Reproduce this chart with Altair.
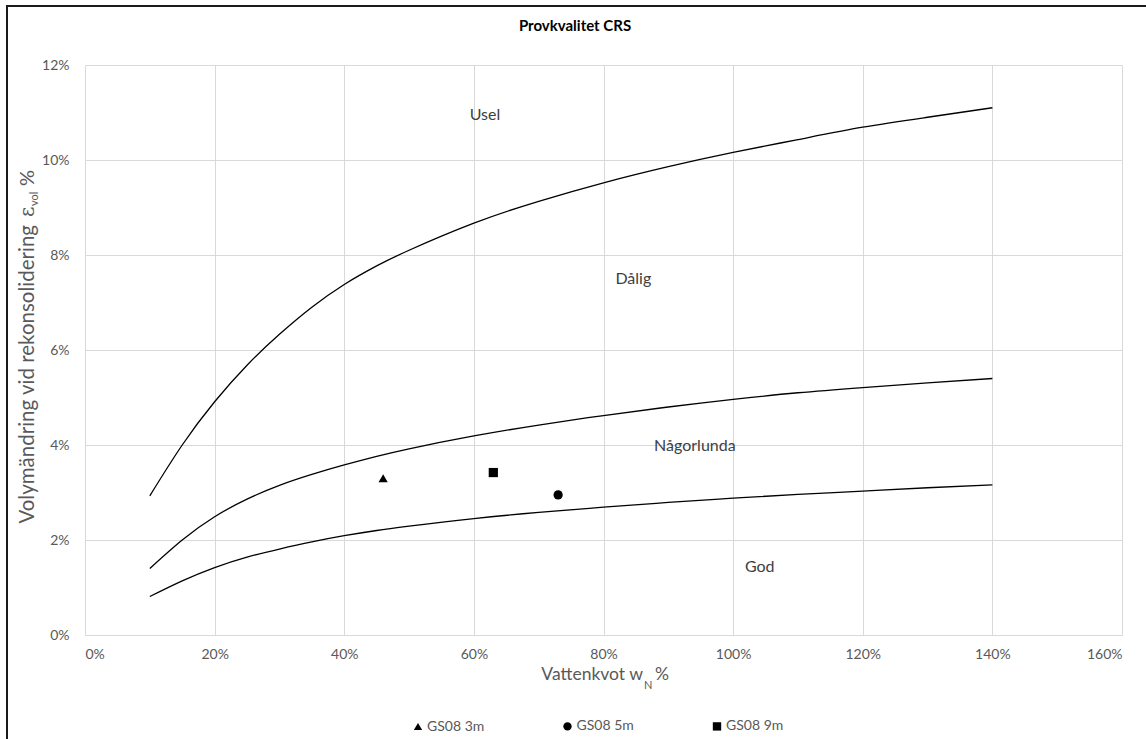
import altair as alt
import pandas as pd

# Boundary curves (water content w_N vs. volume change at reconsolidation), in %
curve_x = [0.10, 0.15, 0.20, 0.25, 0.30, 0.35, 0.40, 0.45, 0.50,
           0.60, 0.70, 0.80, 0.90, 1.00, 1.10, 1.20, 1.30, 1.40]
usel_dalig = [2.93, 4.00, 4.91, 5.68, 6.33, 6.90, 7.38, 7.77, 8.10,
              8.67, 9.13, 9.52, 9.86, 10.16, 10.43, 10.69, 10.90, 11.10]
dalig_nagorlunda = [1.40, 2.00, 2.49, 2.86, 3.15, 3.38, 3.58, 3.76, 3.92,
                    4.19, 4.42, 4.62, 4.80, 4.96, 5.10, 5.21, 5.31, 5.40]
nagorlunda_god = [0.81, 1.14, 1.42, 1.64, 1.81, 1.96, 2.09, 2.20, 2.29,
                  2.45, 2.58, 2.69, 2.79, 2.88, 2.96, 3.03, 3.10, 3.16]

# Samples
sample_names = ["GS08 3m", "GS08 5m", "GS08 9m"]
sample_shapes = ["triangle-up", "circle", "square"]
sample_w = [0.46, 0.73, 0.63]
sample_eps = [3.30, 2.95, 3.42]

# Region labels
region_names = ["Usel", "Dålig", "Någorlunda", "God"]
region_x = [0.617, 0.846, 0.941, 1.041]
region_y = [10.95, 7.49, 3.98, 1.43]

x_ticks = [0.0, 0.2, 0.4, 0.6, 0.8, 1.0, 1.2, 1.4, 1.6]
y_ticks = [0.0, 0.02, 0.04, 0.06, 0.08, 0.10, 0.12]

FONT = "Lato"
GREY = "#595959"
W, H = 1037, 570

rows = []
for name, ys in [("a", usel_dalig), ("b", dalig_nagorlunda), ("c", nagorlunda_god)]:
    for xv, yv in zip(curve_x, ys):
        rows.append({"curve": name, "w": xv, "eps": yv / 100})
curves = pd.DataFrame(rows)

samples = pd.DataFrame({
    "prov": sample_names,
    "w": sample_w,
    "eps": [v / 100 for v in sample_eps],
})

regions = pd.DataFrame({
    "label": region_names,
    "w": region_x,
    "eps": [v / 100 for v in region_y],
})

x_scale = alt.Scale(domain=[0, 1.6], nice=False, zero=False)
y_scale = alt.Scale(domain=[0, 0.12], nice=False, zero=False)

axis_common = dict(
    grid=True, gridColor="#d9d9d9", gridWidth=1,
    domainColor="#d9d9d9", ticks=False,
    labelFont=FONT, labelFontSize=14, labelColor=GREY,
    format=".0%", title=None,
)

lines = alt.Chart(curves).mark_line(
    color="black", strokeWidth=1.3, interpolate="natural"
).encode(
    x=alt.X("w:Q", scale=x_scale,
            axis=alt.Axis(values=x_ticks, labelPadding=12, **axis_common)),
    y=alt.Y("eps:Q", scale=y_scale,
            axis=alt.Axis(values=y_ticks, labelPadding=16, **axis_common)),
    detail="curve:N",
)

points = alt.Chart(samples).mark_point(
    filled=True, color="black", opacity=1, size=85
).encode(
    x=alt.X("w:Q", scale=x_scale),
    y=alt.Y("eps:Q", scale=y_scale),
    shape=alt.Shape(
        "prov:N",
        scale=alt.Scale(domain=sample_names, range=sample_shapes),
        legend=alt.Legend(
            title=None, orient="none", direction="horizontal", columns=3,
            legendX=326, legendY=654, padding=0,
            columnPadding=74.5, symbolSize=70, labelOffset=2,
            labelFont=FONT, labelFontSize=14, labelColor=GREY,
            symbolFillColor="black", symbolStrokeColor="black",
        ),
    ),
)

region_text = alt.Chart(regions).mark_text(
    font=FONT, fontSize=16, color="#404040"
).encode(
    x=alt.X("w:Q", scale=x_scale),
    y=alt.Y("eps:Q", scale=y_scale),
    text="label:N",
)


def label(txt, px, py, font=FONT, **kw):
    """A single piece of free text placed in plot-area pixel space."""
    return alt.Chart(pd.DataFrame({"t": [txt]})).mark_text(font=font, **kw).encode(
        x=alt.value(px), y=alt.value(py), text="t:N"
    )


title = label("Provkvalitet CRS", 490, -39, fontSize=15, fontWeight="bold",
              color="black", baseline="middle", align="center")

# x-axis title: "Vattenkvot w" with subscript N
x_title = [
    label("Vattenkvot w", 558, 614.5, fontSize=17.5, color=GREY,
          align="right", baseline="alphabetic"),
    label("N", 559, 624, fontSize=11, color=GREY,
          align="left", baseline="alphabetic"),
    label("%", 570, 614.5, fontSize=17.5, color=GREY,
          align="left", baseline="alphabetic"),
]

# y-axis title: rotated, with ε subscript "vol"
y_title = [
    label("Volymändring vid rekonsolidering", -51.5, 160, fontSize=20.5,
          color=GREY, angle=270, align="right", baseline="alphabetic"),
    label("ε", -51.5, 152, fontSize=20, color=GREY, angle=270,
          align="left", baseline="alphabetic", font="DejaVu Serif"),
    label("vol", -47.5, 141, fontSize=11, color=GREY, angle=270,
          align="left", baseline="alphabetic"),
    label("%", -51.5, 121, fontSize=20, color=GREY, angle=270,
          align="left", baseline="alphabetic"),
]

frame = alt.Chart(pd.DataFrame({"k": [0]})).mark_rect(
    fillOpacity=0, stroke="#1a1a1a", strokeWidth=2
).encode(
    x=alt.value(-78), x2=alt.value(1080),
    y=alt.value(-59), y2=alt.value(700),
)

chart = alt.layer(
    lines, points, region_text, title, *x_title, *y_title, frame
).properties(
    width=W, height=H,
    autosize=alt.AutoSizeParams(type="none"),
    padding={"left": 85, "top": 65, "right": 24, "bottom": 104},
    background="white",
).configure_view(strokeWidth=0)

chart.save("out.html", embed_options={"renderer": "svg", "actions": False})
